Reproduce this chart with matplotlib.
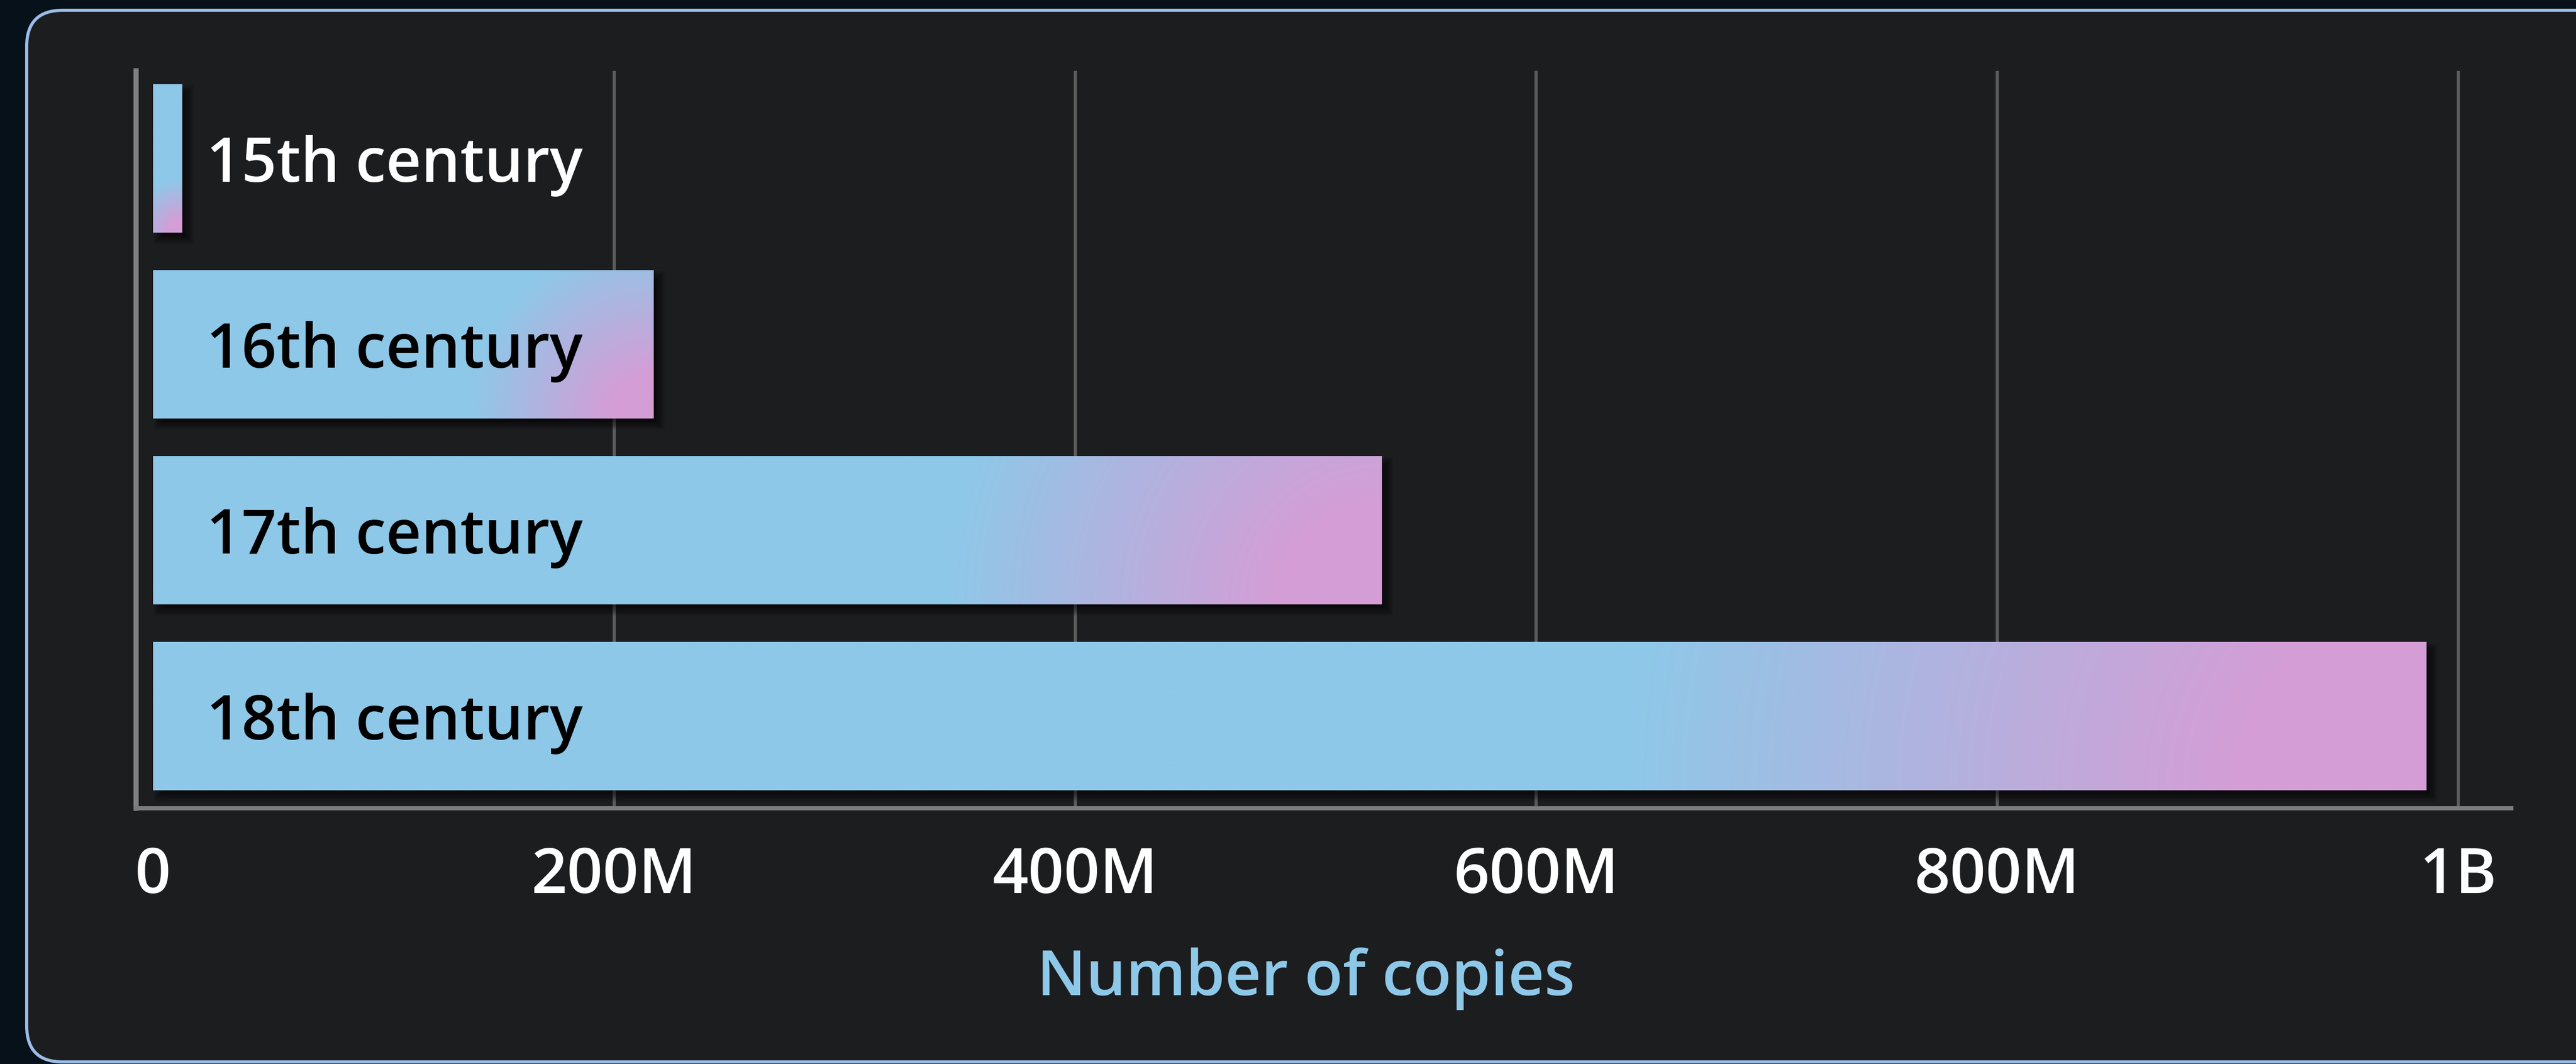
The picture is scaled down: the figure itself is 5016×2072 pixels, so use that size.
import numpy as np
import matplotlib.pyplot as plt
from matplotlib import patches, transforms
from matplotlib.colors import to_rgb

# data
centuries = ["15th century", "16th century", "17th century", "18th century"]
copies = [12.6e6, 217e6, 533e6, 986e6]
ticks = [0, 200e6, 400e6, 600e6, 800e6, 1e9]
tick_labels = ["0", "200M", "400M", "600M", "800M", "1B"]
x_title = "Number of copies"

BLUE = "#8ec8e8"
PINK = "#d59dd6"
W, H, DPI = 5016, 2072, 200

plt.rcParams['font.family'] = ['Open Sans', 'DejaVu Sans']

fig = plt.figure(figsize=(W / DPI, H / DPI), dpi=DPI)
fig.patch.set_facecolor("#06111a")
px = transforms.IdentityTransform()

# rounded card behind the chart
card = patches.FancyBboxPatch((52, 4), 5100, H - 24,
                              boxstyle="round,pad=0,rounding_size=70",
                              transform=px, fc="#1c1d1f", ec="#9abce6",
                              lw=2.2, zorder=-1)
fig.add_artist(card)

ax = fig.add_axes([265 / W, (H - 1574) / H, (4890 - 265) / W, (1574 - 138) / H])
ax.set_facecolor("none")
scale = 4489 / 1e9  # pixels per copy
ax.set_xlim(-(298 - 265) / scale, (4890 - 298) / scale)
ax.set_ylim(len(centuries) - 1 + 0.496, -0.471)
bar_h = 0.798


def bar_gradient(w, h):
    # radial blend from the bottom-right corner: pink there, blue further away
    nx, ny = max(int(w / 3), 2), max(int(h / 3), 2)
    u = np.linspace(0, 1, nx)
    v = np.linspace(0, 1, ny)[:, None]
    d = np.hypot((1 - u) * w, (1 - v) * h) / np.hypot(w, h)
    t = np.clip((d - 0.08) / 0.27, 0, 1)[..., None]
    return np.array(to_rgb(PINK)) * (1 - t) + np.array(to_rgb(BLUE)) * t


for i, (name, val) in enumerate(zip(centuries, copies)):
    top, bottom = i - bar_h / 2, i + bar_h / 2
    x0, y0 = ax.transData.transform((0, bottom))
    x1, y1 = ax.transData.transform((val, top))
    w, h = x1 - x0, y1 - y0

    # soft drop shadow
    off = 12
    for k in range(8):
        g = 10 - k * 2.5
        ax.add_patch(patches.Rectangle((x0 + off - g, y0 - off - g), w + 2 * g, h + 2 * g,
                                       transform=px, fc="black", alpha=0.09, lw=0,
                                       zorder=1.5, clip_on=False))

    ax.imshow(bar_gradient(w, h), extent=[0, val, bottom, top], origin="upper",
              aspect="auto", interpolation="bilinear", zorder=2)

    inside = val * scale > 105 + 760
    tr = transforms.offset_copy(ax.transData, fig=fig, x=104, y=-46, units="dots")
    ax.text(0, i, name, transform=tr, color="black" if inside else "white",
            fontsize=43, fontweight="semibold", ha="left", va="baseline", zorder=4)

ax.set_xlim(-(298 - 265) / scale, (4890 - 298) / scale)
ax.set_ylim(len(centuries) - 1 + 0.496, -0.471)

# grid lines
ax.vlines(ticks[1:], *ax.get_ylim(), colors="#5b5b5b", lw=2.2, zorder=1)

ax.set_xticks(ticks, tick_labels)
ax.tick_params(axis="x", length=0, pad=26, labelsize=44, labelcolor="white")
for lab in ax.get_xticklabels():
    lab.set_fontweight("semibold")
ax.set_yticks([])

for s in ["top", "right"]:
    ax.spines[s].set_visible(False)
ax.spines["left"].set_color("#808080")
ax.spines["left"].set_linewidth(3.6)
ax.spines["bottom"].set_color("#7b7b7b")
ax.spines["bottom"].set_linewidth(2.9)

tt = transforms.blended_transform_factory(ax.transData, ax.transAxes)
ax.text((ticks[0] + ticks[-1]) / 2, -0.2535, x_title, transform=tt, color=BLUE,
        fontsize=44, fontweight="semibold", ha="center", va="baseline")

fig.savefig("out.png", dpi=DPI)
